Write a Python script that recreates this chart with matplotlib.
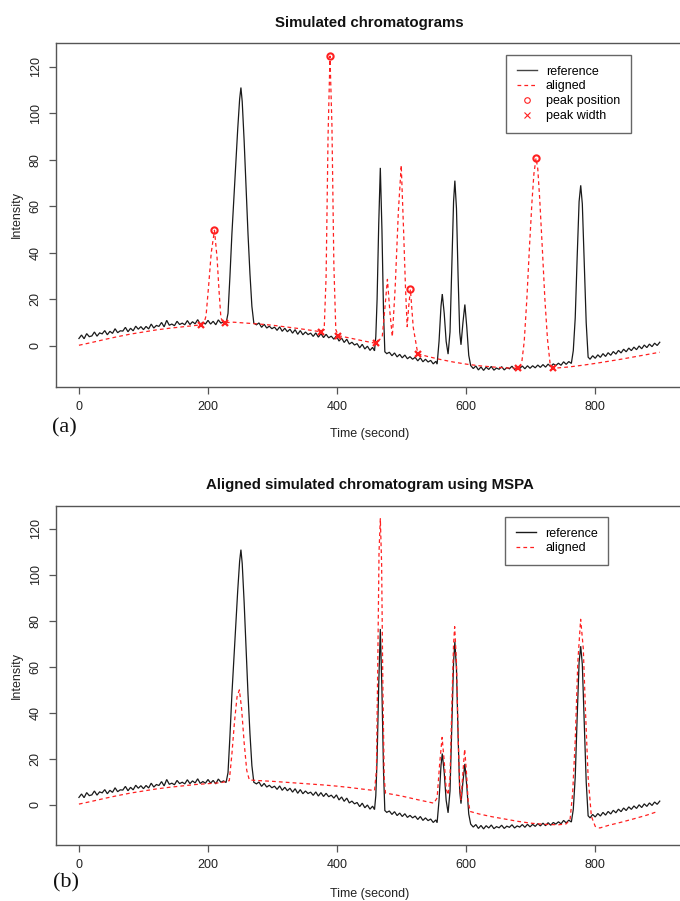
import matplotlib
matplotlib.use("Agg")
import matplotlib.pyplot as plt
from matplotlib.lines import Line2D

plt.rcParams['font.family'] = ['Liberation Sans', 'DejaVu Sans']

# ---------------- data ----------------
# reference chromatogram (same in both panels)
ref_time = [0, 4, 8, 12, 16, 20, 24, 28, 32, 36, 40, 44, 48, 52, 56, 60, 64, 68, 72, 76,
            80, 84, 88, 92, 96, 100, 104, 108, 112, 116, 120, 124, 128, 132, 136, 140, 144,
            148, 152, 156, 160, 164, 168, 172, 176, 180, 184, 188, 192, 196, 200, 204, 208,
            212, 216, 220, 224, 228,
            231, 234, 237, 240, 243, 246, 249, 251, 253, 256, 259, 262, 265, 268, 271,
            275, 279, 283, 287, 291, 295, 299, 303, 307, 311, 315, 319, 323, 327, 331, 335,
            339, 343, 347, 351, 355, 359, 363, 367, 371, 375, 379, 383, 387, 391, 395, 399,
            403, 407, 411, 415, 419, 423, 427, 431, 435, 439, 443, 447, 451, 455, 458,
            460, 462, 464.5, 467, 469.5, 472, 474,
            477, 481, 485, 489, 493, 497, 501, 505, 509, 513, 517, 521, 525, 529, 533, 537,
            541, 545, 549, 553, 555,
            558, 561, 563, 566, 569, 572, 575, 578, 580.5, 582.5, 585, 587.5, 590, 592, 595,
            598, 601, 604, 607,
            611, 615, 619, 623, 627, 631, 635, 639, 643, 647, 651, 655, 659, 663, 667, 671,
            675, 679, 683, 687, 691, 695, 699, 703, 707, 711, 715, 719, 723, 727, 731, 735,
            739, 743, 747, 751, 755, 759, 763,
            766, 769, 772, 775, 777.5, 780, 783, 786, 789,
            792, 796, 800, 804, 808, 812, 816, 820, 824, 828, 832, 836, 840, 844, 848, 852,
            856, 860, 864, 868, 872, 876, 880, 884, 888, 892, 896, 900]
ref_int = [3.2, 4.7, 3.1, 5.3, 4.0, 4.3, 6.0, 4.2, 5.6, 5.2, 6.6, 4.8, 6.3, 5.4, 7.4, 5.7, 6.5,
           6.4, 8.0, 6.1, 7.6, 6.5, 8.5, 7.2, 8.3, 7.0, 8.4, 7.3, 9.4, 7.7, 8.8, 8.4, 10.1,
           8.2, 11.0, 8.9, 9.4, 8.7, 10.6, 9.2, 9.8, 9.1, 10.9, 9.2, 10.4, 9.5, 11.3, 9.3,
           10.1, 9.4, 11.0, 9.4, 10.6, 9.1, 11.2, 9.8, 10.4, 9.7,
           14, 30, 48, 63, 78, 93, 106, 111, 105, 88, 68, 48, 31, 17, 9.8,
           9.1, 9.9, 8.0, 9.3, 7.7, 8.5, 7.4, 8.1, 6.7, 8.2, 6.3, 7.6, 6.1, 7.2, 5.5, 7.0,
           5.0, 6.6, 4.8, 6.0, 4.9, 5.5, 4.1, 5.6, 3.8, 5.3, 3.6, 5.0, 3.5, 4.2, 2.9, 4.3,
           2.1, 3.4, 1.5, 2.9, 0.8, 1.6, 0.4, 1.0, -0.8, 0.7, -1.3, -0.1, -1.9, -0.6, -2.1,
           4, 20, 52, 76.5, 50, 14, -2.5,
           -3.3, -2.7, -4.2, -3.0, -4.7, -3.6, -5.1, -3.9, -5.5, -4.6, -5.7, -4.9, -6.4,
           -5.1, -6.8, -5.7, -6.9, -6.2, -7.7, -6.6, -7.8,
           2, 17, 22.3, 14, 2, -3.5, 6, 36, 62, 71, 59, 30, 6, 0.5, 10,
           17.8, 8, -4, -8.4,
           -9.7, -8.6, -10.3, -9.0, -10.5, -9.1, -10.1, -8.8, -10.4, -9.5, -10.0, -8.9,
           -10.3, -9.3, -9.8, -8.7, -10.1, -9.2, -9.7, -8.6, -9.8, -8.5, -9.6, -8.5, -9.4,
           -8.2, -9.2, -8.0, -9.1, -7.8, -8.9, -7.7, -8.4, -7.4, -8.3, -6.8, -7.9, -6.7, -7.5,
           -2, 12, 38, 62, 69, 61, 36, 10, -4.8,
           -5.7, -4.2, -5.3, -3.8, -4.9, -3.3, -4.5, -2.9, -4.0, -2.4, -3.5, -1.9, -3.0,
           -1.4, -2.5, -0.9, -2.0, -0.5, -1.6, 0.0, -1.2, 0.4, -0.7, 0.8, -0.3, 1.2, 0.2, 1.6]

# aligned chromatogram, panel (a)
al_a_time = [0, 20, 40, 60, 80, 100, 120, 140, 160, 180, 189.5, 194, 197, 201, 205, 210,
             214, 217, 220, 223, 226.5, 240, 260, 280, 300, 320, 340, 360, 374.8, 380, 383,
             386, 389, 392, 395, 398, 402, 420, 440, 460.8, 470, 474, 478, 482, 485.6, 490,
             495, 499.4, 503, 506, 508.6, 511, 513.6, 518, 525, 540, 560, 580, 600, 620,
             640, 660, 680, 686, 690, 694, 698, 702, 705, 708.3, 711, 714, 718, 722, 726,
             730, 735, 760, 780, 800, 820, 840, 860, 880, 900]
al_a_int = [0.3, 1.5, 2.8, 4.0, 5.1, 6.0, 6.9, 7.6, 8.2, 8.8, 9.0, 10, 13, 26, 40, 49.7,
            38, 24, 12, 10.5, 10.0, 10.2, 9.8, 9.4, 8.9, 8.2, 7.5, 6.7, 6.1, 7, 30,
            90, 124.5, 95, 35, 7, 4.4, 3.4, 2.2, 1.1, 4, 16, 28.6, 14, 4, 25,
            58, 77.6, 50, 25, 8.3, 17, 24.3, 8, -3.3, -4.5, -5.8, -6.9, -7.8, -8.5,
            -9.0, -9.4, -9.6, -7.5, 2, 20, 42, 62, 74, 80.7, 76, 63, 42, 20, 3,
            -7.5, -9.6, -9.0, -8.3, -7.5, -6.6, -5.7, -4.7, -3.7, -2.7]

# detected peak positions and peak-width limits, panel (a)
peak_pos_time = [210, 389, 513.6, 708.3]
peak_pos_int = [49.7, 124.5, 24.3, 80.7]
peak_wid_time = [189.5, 226.5, 374.8, 402, 460.8, 525, 680, 735]
peak_wid_int = [9.0, 10.0, 6.1, 4.4, 1.1, -3.3, -9.6, -9.6]

# aligned chromatogram after MSPA, panel (b)
al_b_time = [0, 20, 40, 60, 80, 100, 120, 140, 160, 180, 200, 220, 233, 237, 241, 245,
             248.6, 252, 256, 260, 264, 280, 300, 320, 340, 360, 380, 400, 420, 440, 458,
             461, 463, 465, 467, 469, 471, 473, 475, 500, 525, 550, 555, 559, 562.7, 566,
             569, 572, 575, 578, 580.5, 582.2, 585, 588, 590, 592, 595, 597.7, 600.5, 603,
             606, 620, 640, 660, 680, 700, 720, 743, 755, 761, 765, 769, 773, 777.4, 781.5,
             785, 789, 794, 800, 807, 820, 840, 860, 880, 897]
al_b_int = [0.3, 1.5, 2.8, 4.0, 5.1, 6.0, 6.9, 7.6, 8.2, 8.8, 9.2, 9.6, 10.5, 22, 36, 47,
            50, 42, 27, 15, 10.8, 10.5, 10.2, 9.8, 9.4, 9.0, 8.6, 8.1, 7.5, 6.8, 6.2,
            15, 60, 110, 124.5, 105, 50, 12, 5.1, 3.8, 2.2, 0.7, 3, 18, 29.3, 19,
            7, 4.3, 12, 45, 70, 77.5, 62, 26, 8, 2.2, 14, 24.2, 14, 2,
            -2.9, -4.0, -5.2, -6.2, -7.2, -8.0, -8.5, -8.7, -8.3, -6.5, 5, 28, 62, 80.7, 68,
            40, 12, -5, -9.4, -10.1, -9.0, -7.6, -6.1, -4.5, -2.9]

x_ticks = [0, 200, 400, 600, 800]
y_ticks = [0, 20, 40, 60, 80, 100, 120]
titles = ["Simulated chromatograms", "Aligned simulated chromatogram using MSPA"]
panel_tags = ["(a)", "(b)"]

# ---------------- figure ----------------
W, H = 680, 901
fig = plt.figure(figsize=(W / 100, H / 100), dpi=100)

def fx(px):
    return px / W

def fy(py):
    return 1 - py / H

left_px, right_px = 55.7, 683
boxes = [(43.3, 386.7), (506, 845)]
axes = []
for (top, bot) in boxes:
    ax = fig.add_axes([fx(left_px), fy(bot), (right_px - left_px) / W, (bot - top) / H])
    axes.append(ax)

spine_col = '#555555'
red = '#ff2020'
blk = '#1a1a1a'

for i, ax in enumerate(axes):
    ax.set_xlim(-36, 936)
    ax.set_ylim(-17.5, 130)
    ax.set_xticks(x_ticks)
    ax.set_yticks(y_ticks)
    ax.set_xticklabels([str(v) for v in x_ticks])
    ax.set_yticklabels([str(v) for v in y_ticks], rotation=90, va='center')
    ax.tick_params(axis='both', labelsize=9, length=5, width=0.9, color=spine_col,
                   labelcolor='#222222')
    ax.tick_params(axis='x', pad=5)
    ax.tick_params(axis='y', pad=5)
    for s in ax.spines.values():
        s.set_color(spine_col)
        s.set_linewidth(1.0)
    ax.set_xlabel("Time (second)", fontsize=9, color='#222222')
    ax.set_ylabel("Intensity", fontsize=9, color='#222222')
    bot_px = boxes[i][1]
    top_px = boxes[i][0]
    hgt = bot_px - top_px
    xl_center = [434, 894][i]
    ax.xaxis.set_label_coords(0.5, (bot_px - xl_center) / hgt)
    ax.xaxis.label.set_va('center')
    ax.yaxis.set_label_coords((16.5 - left_px) / (right_px - left_px), 0.5)
    ax.yaxis.label.set_va('center')

    ax.plot(ref_time, ref_int, color=blk, lw=0.9, solid_joinstyle='miter')

ax1, ax2 = axes
ax1.plot(al_a_time, al_a_int, color=red, lw=0.9, dashes=(3, 2.5))
ax1.plot(peak_pos_time, peak_pos_int, ls='none', marker='o', ms=4.5, mfc='none',
         mec=red, mew=1.5)
ax1.plot(peak_wid_time, peak_wid_int, ls='none', marker='x', ms=5, mec=red, mew=1.6)

ax2.plot(al_b_time, al_b_int, color=red, lw=0.9, dashes=(3, 2.5))

# legends
h_ref = Line2D([], [], color='#444444', lw=1.0)
h_al = Line2D([], [], color=red, lw=0.9, dashes=(3, 2.5))
h_pp = Line2D([], [], ls='none', marker='o', ms=4, mfc='none', mec=red, mew=0.8)
h_pw = Line2D([], [], ls='none', marker='x', ms=4.5, mec=red, mew=0.8)

leg_kw = dict(fontsize=9, frameon=True, fancybox=False, handlelength=1.6,
              handletextpad=0.75, borderpad=0.85, labelspacing=0.22, borderaxespad=0,
              loc='upper left')
l1 = ax1.legend([h_ref, h_al, h_pp, h_pw],
                ["reference", "aligned", "peak position", "peak width"],
                bbox_to_anchor=((506 - left_px) / (right_px - left_px),
                                (386.7 - 55) / (386.7 - 43.3)), **leg_kw)
h_ref2 = Line2D([], [], color=blk, lw=1.0)
l2 = ax2.legend([h_ref2, h_al], ["reference", "aligned"],
                bbox_to_anchor=((505 - left_px) / (right_px - left_px),
                                (845 - 517) / (845 - 506)), **leg_kw)
for lg in (l1, l2):
    fr = lg.get_frame()
    fr.set_edgecolor('#666666')
    fr.set_linewidth(1.0)
    fr.set_facecolor('white')
    fr.set_alpha(1)

# titles and panel tags
fig.text(fx(369.5), fy(22.5), titles[0], ha='center', va='center', fontsize=10.8,
         fontweight='bold', color='#111111')
fig.text(fx(369.5), fy(485), titles[1], ha='center', va='center', fontsize=10.8,
         fontweight='bold', color='#111111')
fig.text(fx(64), fy(428), panel_tags[0], ha='center', va='center', fontsize=16,
         family=['Liberation Serif'], color='#111111')
fig.text(fx(66), fy(883), panel_tags[1], ha='center', va='center', fontsize=16,
         family=['Liberation Serif'], color='#111111')

fig.savefig('out.png', dpi=100)
